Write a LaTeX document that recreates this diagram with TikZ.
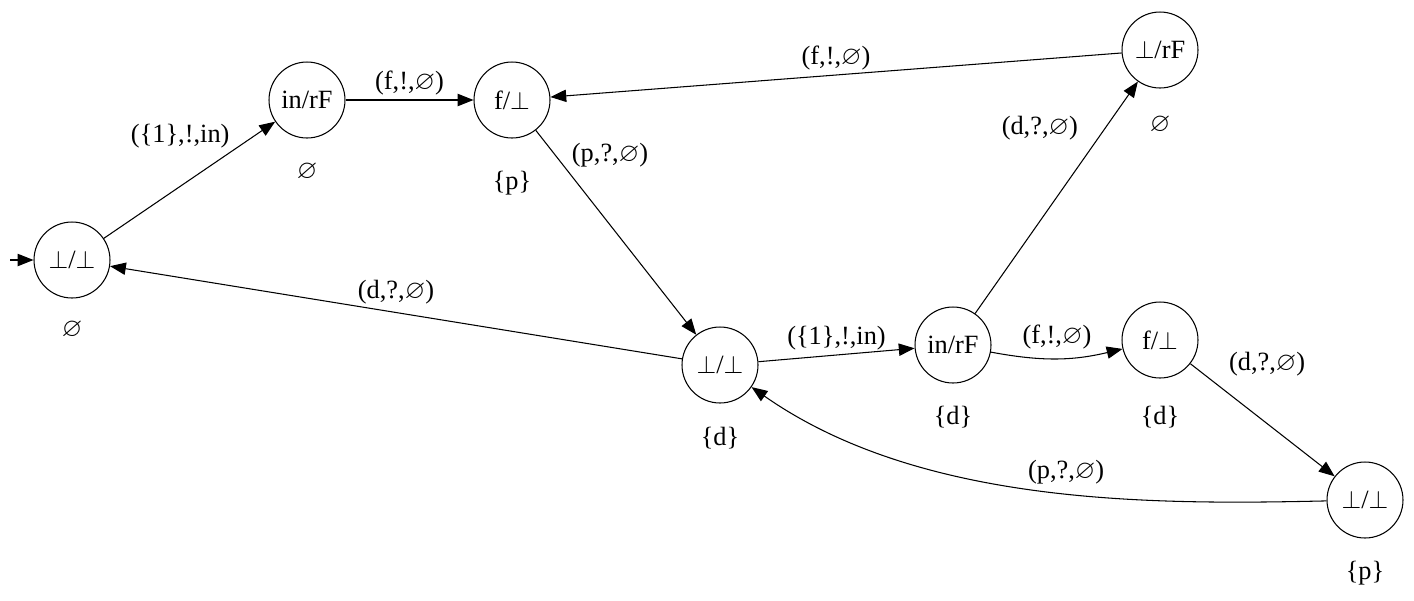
\documentclass[tikz,border=0pt]{standalone}
\usepackage{amssymb}
\usepackage{fontspec}
\setmainfont{Liberation Serif}
\usetikzlibrary{arrows.meta}

\begin{document}
\begin{tikzpicture}[x=0.02cm,y=-0.02cm,semithick,
    state/.style={draw,circle,minimum size=1.52cm,inner sep=0pt,font=\fontsize{15}{17}\selectfont},
    lab/.style={font=\fontsize{15}{17}\selectfont},
    >={Triangle[length=9pt,width=7pt]}]
            \useasboundingbox (0,0) rectangle (1414,600);
            % states
            \node[state] (a) at (72,260) {$\bot$/$\bot$};
            \node[state] (b) at (307,100) {in/rF};
            \node[state] (c) at (512,100) {f/$\bot$};
            \node[state] (d) at (720,365) {$\bot$/$\bot$};
            \node[state] (e) at (953,345) {in/rF};
            \node[state] (f) at (1160,340) {f/$\bot$};
            \node[state] (g) at (1365,500) {$\bot$/$\bot$};
            \node[state] (h) at (1160,50) {$\bot$/rF};
            % sets below the states
            \node[lab] (la) at (72,330) {$\varnothing$};
            \node[lab] (lb) at (307,172) {$\varnothing$};
            \node[lab] (lc) at (512,183) {\{p\}};
            \node[lab] (ld) at (720,438) {\{d\}};
            \node[lab] (le) at (953,417) {\{d\}};
            \node[lab] (lf) at (1160,417) {\{d\}};
            \node[lab] (lg) at (1365,573) {\{p\}};
            \node[lab] (lh) at (1160,125) {$\varnothing$};
            % transitions
            \coordinate (start) at (10,260);
            \draw[->] (start) -- (a);
            \draw[->] (a) -- node[lab,pos=0.75,above left=-2pt] {(\{1\},!,in)} (b);
            \draw[->] (b) -- node[lab,above=-1pt] {(f,!,$\varnothing$)} (c);
            \draw[->] (c) -- node[lab,pos=0.12,right=6pt] {(p,?,$\varnothing$)} (d);
            \draw[->] (d) -- node[lab,above=1pt] {(d,?,$\varnothing$)} (a);
            \draw[->] (d) -- node[lab,above=-1pt] {(\{1\},!,in)} (e);
            \draw[->] (e) to[bend right=12] node[lab,above=2pt] {(f,!,$\varnothing$)} (f);
            \draw[->] (f) -- node[lab,pos=0.2,above right=2pt] {(d,?,$\varnothing$)} (g);
            \draw[->] (g) .. controls (1150,505) and (920,505) .. node[lab,pos=0.45,above=2pt] {(p,?,$\varnothing$)} (d);
            \draw[->] (e) -- node[lab,pos=0.8,left=12pt] {(d,?,$\varnothing$)} (h);
            \draw[->] (h) -- node[lab,above=-1pt] {(f,!,$\varnothing$)} (c);
\end{tikzpicture}
\end{document}
